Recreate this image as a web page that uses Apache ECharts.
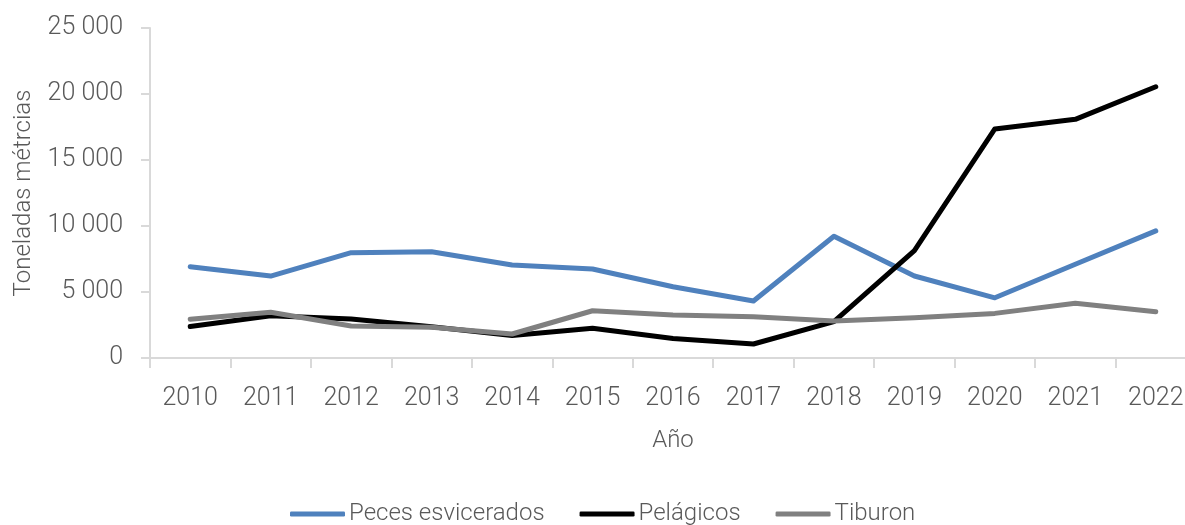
<!DOCTYPE html>
<html>
<head>
<meta charset="utf-8">
<script src="https://cdn.jsdelivr.net/npm/echarts@6/dist/echarts.min.js"></script>
<style>
  html, body { margin: 0; padding: 0; background: #ffffff; }
  #chart { width: 1185px; height: 525px; }
</style>
</head>
<body>
<div id="chart"></div>
<script>
// Capturas anuales por grupo (toneladas métricas)
const years = ['2010', '2011', '2012', '2013', '2014', '2015', '2016', '2017', '2018', '2019', '2020', '2021', '2022'];
const pecesEsvicerados = [6920, 6210, 7980, 8050, 7040, 6740, 5400, 4320, 9220, 6210, 4560, 7100, 9630];
const pelagicos = [2380, 3200, 2950, 2370, 1700, 2250, 1480, 1060, 2750, 8130, 17350, 18080, 20550];
const tiburon = [2930, 3460, 2420, 2330, 1820, 3580, 3260, 3130, 2800, 3050, 3380, 4150, 3500];

const FONT = "'Roboto', sans-serif";
const TEXT = '#595959';
const AXIS = '#d9d9d9';

function fmt(v) {
  return String(v).replace(/\B(?=(\d{3})+(?!\d))/g, ' ');
}

function lineSeries(name, data, color) {
  return {
    name: name,
    type: 'line',
    data: data,
    symbol: 'none',
    lineStyle: { color: color, width: 5, cap: 'round', join: 'round' },
    itemStyle: { color: color }
  };
}

const chart = echarts.init(document.getElementById('chart'), null, { renderer: 'canvas' });
chart.setOption({
  animation: false,
  textStyle: { fontFamily: FONT },
  grid: { left: 150, right: -11, top: 28, bottom: 167, outerBoundsMode: 'none', containLabel: false },
  legend: {
    left: 285,
    bottom: -6,
    itemWidth: 55,
    itemHeight: 5,
    itemGap: 35,
    icon: 'roundRect',
    textStyle: { fontFamily: FONT, fontSize: 24, fontWeight: 300, color: TEXT, padding: [0, 0, 0, -1] },
    data: ['Peces esvicerados', 'Pelágicos', 'Tiburon']
  },
  xAxis: {
    type: 'category',
    data: years,
    boundaryGap: true,
    name: 'Año',
    nameLocation: 'middle',
    nameGap: 71,
    nameMoveOverlap: false,
    nameTextStyle: { fontFamily: FONT, fontSize: 24, fontWeight: 300, color: TEXT },
    axisLine: { lineStyle: { color: AXIS, width: 2 } },
    axisTick: { show: true, length: 10, lineStyle: { color: AXIS, width: 2 } },
    axisLabel: { fontFamily: FONT, fontSize: 25, fontWeight: 300, color: TEXT, margin: 28 },
    splitLine: { show: false }
  },
  yAxis: {
    type: 'value',
    min: 0,
    max: 25000,
    interval: 5000,
    name: 'Toneladas métrcias',
    nameLocation: 'middle',
    nameGap: 114,
    nameRotate: 90,
    nameMoveOverlap: false,
    nameTextStyle: { fontFamily: FONT, fontSize: 24, fontWeight: 300, color: TEXT },
    axisLine: { show: true, lineStyle: { color: AXIS, width: 2 } },
    axisTick: { show: true, length: 9, lineStyle: { color: AXIS, width: 2 } },
    axisLabel: { fontFamily: FONT, fontSize: 25, fontWeight: 300, color: TEXT, margin: 27, formatter: fmt },
    splitLine: { show: false }
  },
  series: [
    lineSeries('Peces esvicerados', pecesEsvicerados, '#4f81bd'),
    lineSeries('Pelágicos', pelagicos, '#000000'),
    lineSeries('Tiburon', tiburon, '#808080')
  ]
});
</script>
</body>
</html>
